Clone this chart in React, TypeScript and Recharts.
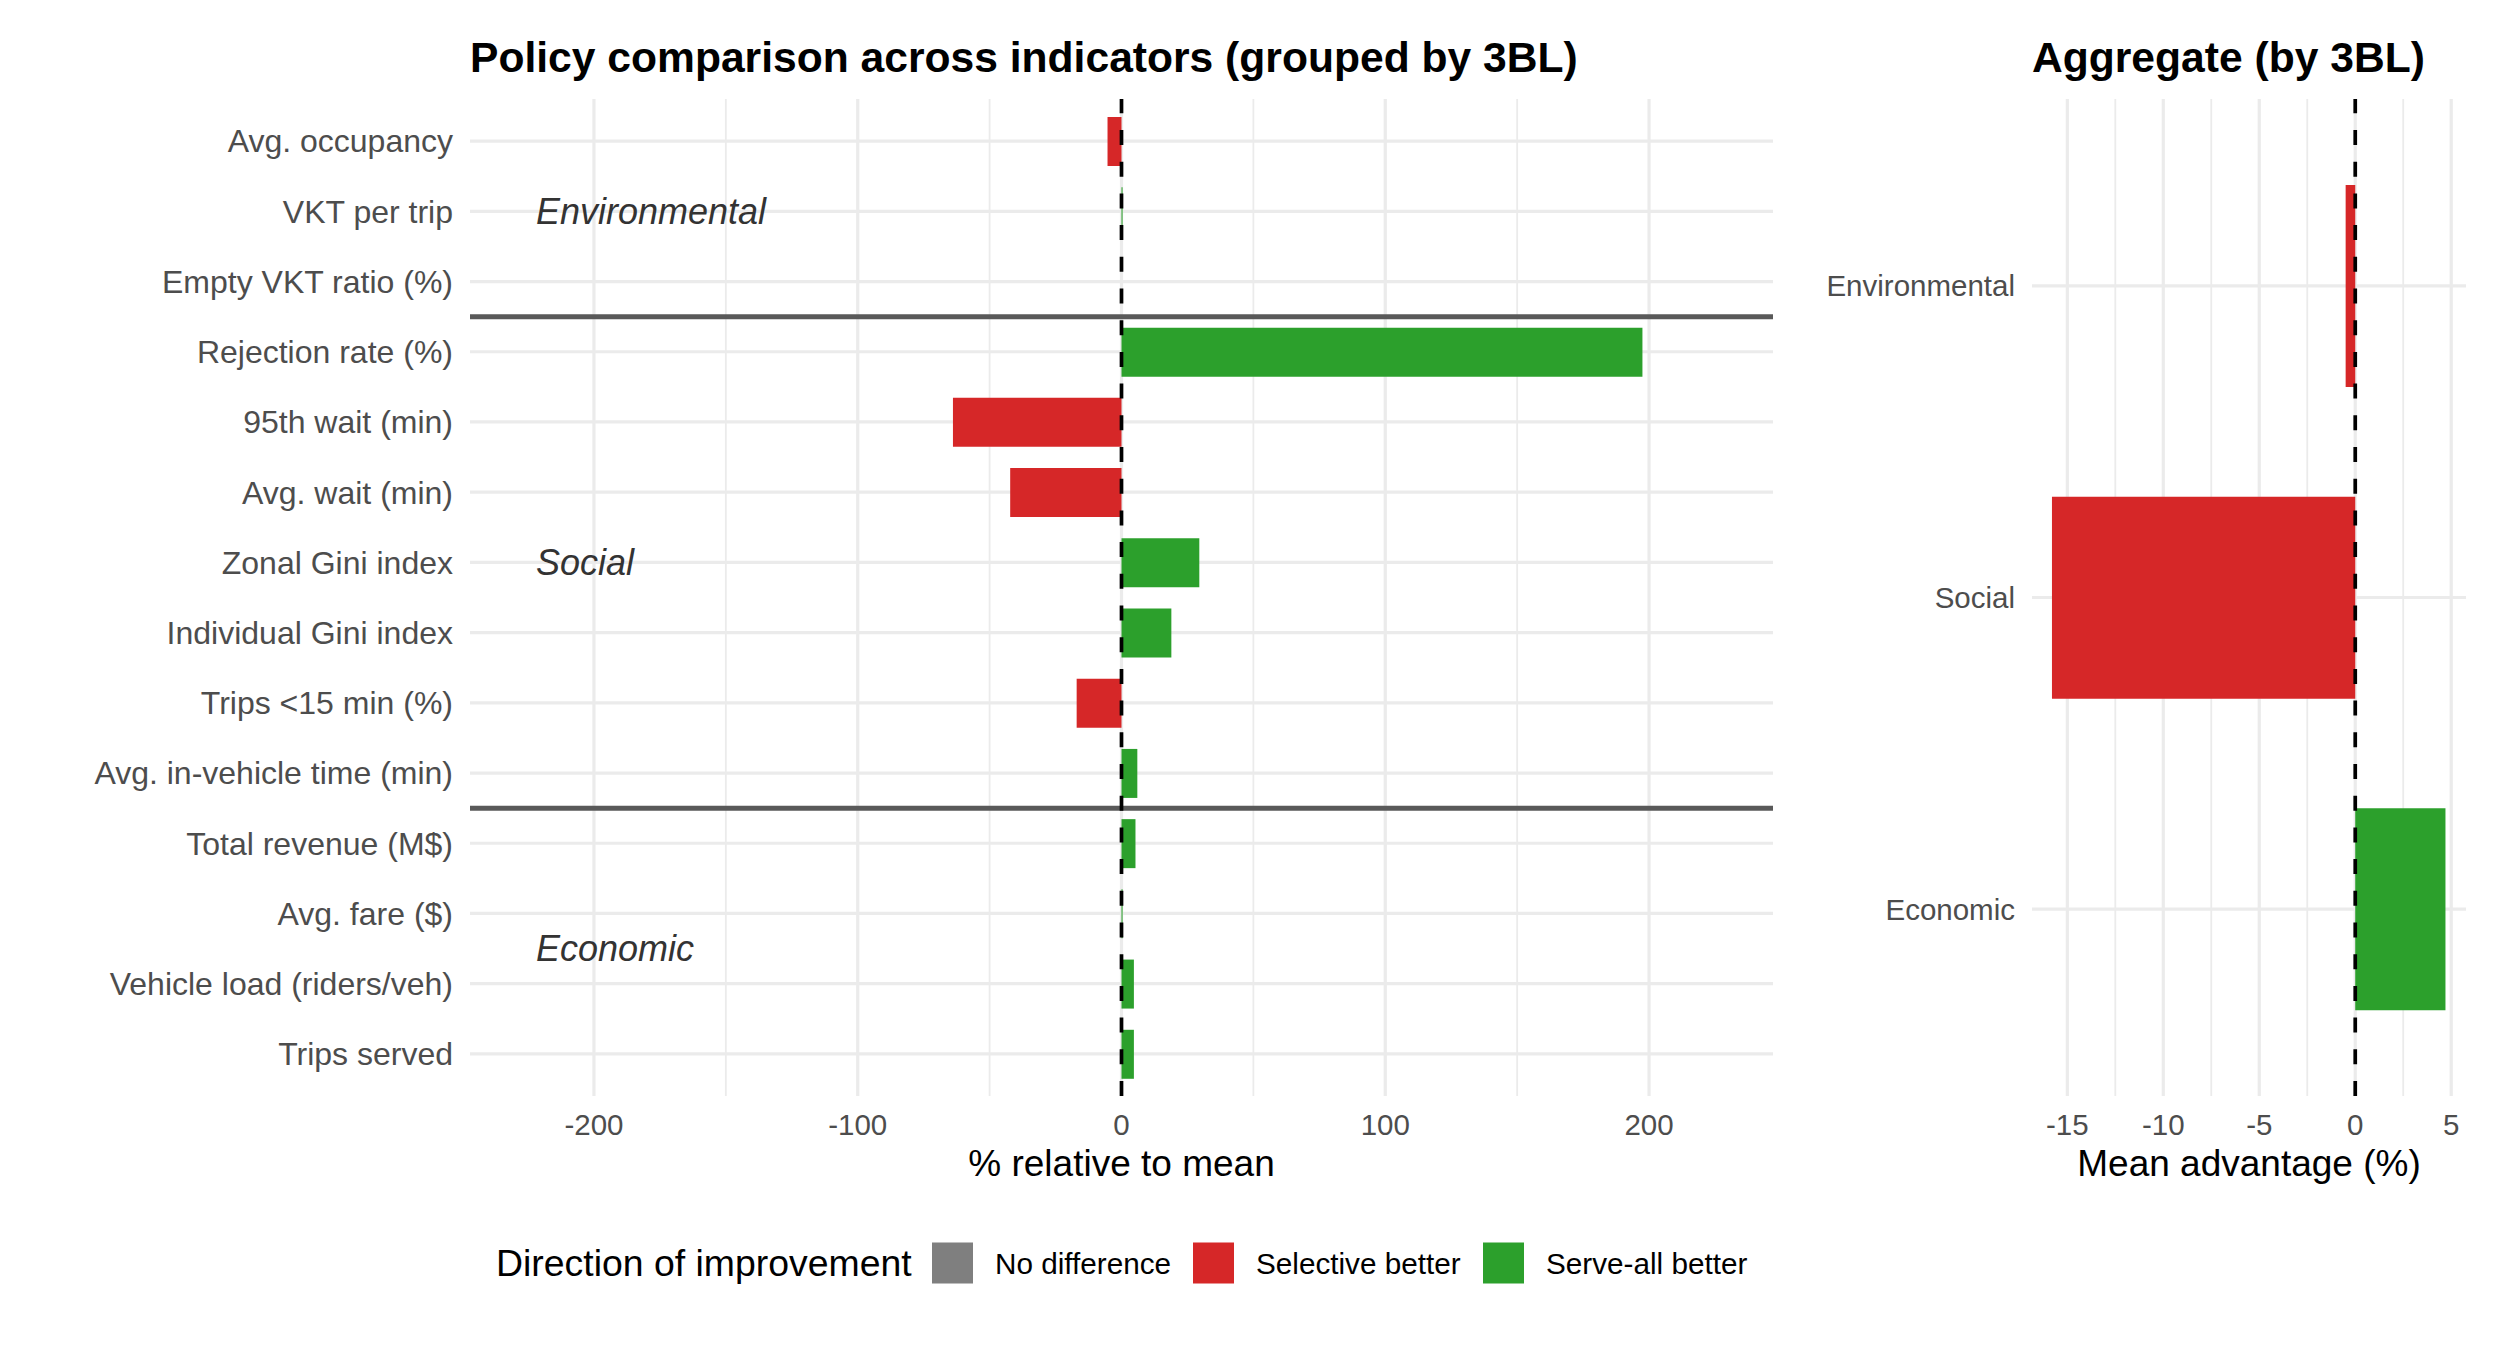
import React from 'react';
import { BarChart, Bar, XAxis, YAxis, CartesianGrid, ReferenceLine, Cell } from 'recharts';

const FONT = '"Liberation Sans", Arial, Helvetica, sans-serif';

// ---------- data ----------
const indicators = [
  'Avg. occupancy',
  'VKT per trip',
  'Empty VKT ratio (%)',
  'Rejection rate (%)',
  '95th wait (min)',
  'Avg. wait (min)',
  'Zonal Gini index',
  'Individual Gini index',
  'Trips <15 min (%)',
  'Avg. in-vehicle time (min)',
  'Total revenue (M$)',
  'Avg. fare ($)',
  'Vehicle load (riders/veh)',
  'Trips served',
];
const relativeValues = [-5.3, 0.4, 0, 197.5, -63.9, -42.2, 29.5, 18.9, -17.0, 6.0, 5.3, 0.4, 4.7, 4.7];
const indicatorDirections = [
  'Selective better',
  'Serve-all better',
  'No difference',
  'Serve-all better',
  'Selective better',
  'Selective better',
  'Serve-all better',
  'Serve-all better',
  'Selective better',
  'Serve-all better',
  'Serve-all better',
  'Serve-all better',
  'Serve-all better',
  'Serve-all better',
];

const aggregateGroups = ['Environmental', 'Social', 'Economic'];
const aggregateValues = [-0.5, -15.8, 4.7];
const aggregateDirections = ['Selective better', 'Selective better', 'Serve-all better'];

const legendLabels = ['No difference', 'Selective better', 'Serve-all better'];
const legendColors = ['#7F7F7F', '#D62728', '#2CA02C'];

const leftTicks = [-200, -100, 0, 100, 200];
const leftMinorTicks = [-150, -50, 50, 150];
const rightTicks = [-15, -10, -5, 0, 5];
const rightMinorTicks = [-12.5, -7.5, -2.5, 2.5];
const leftDomain = [-247, 247];
const rightDomain = [-16.84, 5.77];

// group label annotations (text, anchoring indicator, band position)
const groupLabelText = ['Environmental', 'Social', 'Economic'];
const groupLabelAnchor = ['VKT per trip', 'Zonal Gini index', 'Vehicle load (riders/veh)'];
const groupLabelPosition = ['middle', 'middle', 'start'];
const groupLabelX = -222;
const groupBoundaries = ['Rejection rate (%)', 'Total revenue (M$)'];

// ---------- derived tables ----------
const colorOf = (d: string) => legendColors[legendLabels.indexOf(d)];
const leftData = indicators.map((name, i) => ({ name, value: relativeValues[i], direction: indicatorDirections[i] }));
const rightData = aggregateGroups.map((name, i) => ({ name, value: aggregateValues[i], direction: aggregateDirections[i] }));

const XTick = (props: any) => {
  const { x, y, payload } = props;
  return (
    <text x={x} y={y + 39} textAnchor="middle" fontSize={29.5} fill="#4D4D4D" fontFamily={FONT}>
      {String(payload.value)}
    </text>
  );
};

const makeYTick = (fontSize: number) => (props: any) => {
  const { x, y, payload } = props;
  return (
    <text x={x - 17} y={y} dy="0.355em" textAnchor="end" fontSize={fontSize} fill="#4D4D4D" fontFamily={FONT}>
      {payload.value}
    </text>
  );
};
const LeftYTick = makeYTick(32);
const RightYTick = makeYTick(29.5);

const GRID = '#EBEBEB';

export default function App() {
  return (
    <div style={{ position: 'absolute', left: 0, top: 0, width: 2500, height: 1346, background: '#FFFFFF', fontFamily: FONT }}>
      {/* Left panel */}
      <div style={{ position: 'absolute', left: 0, top: 0 }}>
        <BarChart
          width={1800}
          height={1346}
          data={leftData}
          layout="vertical"
          margin={{ top: 99, right: 27, bottom: 190, left: 0 }}
          barCategoryGap={0}
        >
          <CartesianGrid xAxisId="minor" stroke={GRID} strokeWidth={1.8} horizontal={false} vertical syncWithTicks />
          <CartesianGrid stroke={GRID} strokeWidth={3.2} syncWithTicks />
          <XAxis
            type="number"
            domain={leftDomain}
            ticks={leftTicks}
            allowDataOverflow
            interval={0}
            tickLine={false}
            axisLine={false}
            tickSize={0}
            tickMargin={0}
            height={60}
            tick={<XTick />}
          />
          <XAxis xAxisId="minor" type="number" domain={leftDomain} ticks={leftMinorTicks} allowDataOverflow interval={0} hide />
          <YAxis
            type="category"
            dataKey="name"
            width={470}
            interval={0}
            tickLine={false}
            axisLine={false}
            tickSize={0}
            tickMargin={0}
            padding={{ top: 7, bottom: 7 }}
            tick={<LeftYTick />}
          />
          <Bar dataKey="value" barSize={49} isAnimationActive={false}>
            {leftData.map((d) => (
              <Cell key={d.name} fill={colorOf(d.direction)} />
            ))}
          </Bar>
          {groupBoundaries.map((b) => (
            <ReferenceLine key={b} y={b} position="start" stroke="#595959" strokeWidth={5} />
          ))}
          <ReferenceLine x={0} stroke="#000000" strokeWidth={3.7} strokeDasharray="15 16.7" />
          {groupLabelText.map((t, i) => (
            <ReferenceLine
              key={t}
              segment={[
                { x: groupLabelX, y: groupLabelAnchor[i] },
                { x: groupLabelX + 1, y: groupLabelAnchor[i] },
              ]}
              position={groupLabelPosition[i] as any}
              stroke="none"
              label={{
                value: t,
                position: 'insideLeft',
                offset: 0,
                fontSize: 36,
                fontStyle: 'italic',
                fill: '#333333',
                fontFamily: FONT,
              }}
            />
          ))}
        </BarChart>
      </div>

      {/* Right panel */}
      <div style={{ position: 'absolute', left: 1800, top: 0 }}>
        <BarChart
          width={700}
          height={1346}
          data={rightData}
          layout="vertical"
          margin={{ top: 99, right: 34, bottom: 190, left: 0 }}
          barCategoryGap={0}
        >
          <CartesianGrid xAxisId="minor" stroke={GRID} strokeWidth={1.8} horizontal={false} vertical syncWithTicks />
          <CartesianGrid stroke={GRID} strokeWidth={3.2} syncWithTicks />
          <XAxis
            type="number"
            domain={rightDomain}
            ticks={rightTicks}
            allowDataOverflow
            interval={0}
            tickLine={false}
            axisLine={false}
            tickSize={0}
            tickMargin={0}
            height={60}
            tick={<XTick />}
          />
          <XAxis xAxisId="minor" type="number" domain={rightDomain} ticks={rightMinorTicks} allowDataOverflow interval={0} hide />
          <YAxis
            type="category"
            dataKey="name"
            width={232}
            interval={0}
            tickLine={false}
            axisLine={false}
            tickSize={0}
            tickMargin={0}
            padding={{ top: 31, bottom: 31 }}
            tick={<RightYTick />}
          />
          <Bar dataKey="value" barSize={202} isAnimationActive={false}>
            {rightData.map((d) => (
              <Cell key={d.name} fill={colorOf(d.direction)} />
            ))}
          </Bar>
          <ReferenceLine x={0} stroke="#000000" strokeWidth={3.7} strokeDasharray="15 16.7" />
        </BarChart>
      </div>

      {/* Titles, axis titles, legend */}
      <svg
        width={2500}
        height={1346}
        style={{ position: 'absolute', left: 0, top: 0, pointerEvents: 'none' }}
        fontFamily={FONT}
      >
        <text x={470} y={72} fontSize={42.6} fontWeight="bold" fill="#000000">
          Policy comparison across indicators (grouped by 3BL)
        </text>
        <text x={2032} y={72} fontSize={42.6} fontWeight="bold" fill="#000000">
          Aggregate (by 3BL)
        </text>
        <text x={1121.5} y={1176} fontSize={37} textAnchor="middle" fill="#000000">
          % relative to mean
        </text>
        <text x={2249} y={1176} fontSize={37} textAnchor="middle" fill="#000000">
          Mean advantage (%)
        </text>
        <text x={496} y={1276} fontSize={37.4} fill="#000000">
          Direction of improvement
        </text>
        {legendLabels.map((l, i) => {
          const keyX = [932, 1193, 1483][i];
          return (
            <g key={l}>
              <rect x={keyX} y={1242.5} width={41} height={41} fill={legendColors[i]} />
              <text x={keyX + 63} y={1273.5} fontSize={29.7} fill="#000000">
                {l}
              </text>
            </g>
          );
        })}
      </svg>
    </div>
  );
}
